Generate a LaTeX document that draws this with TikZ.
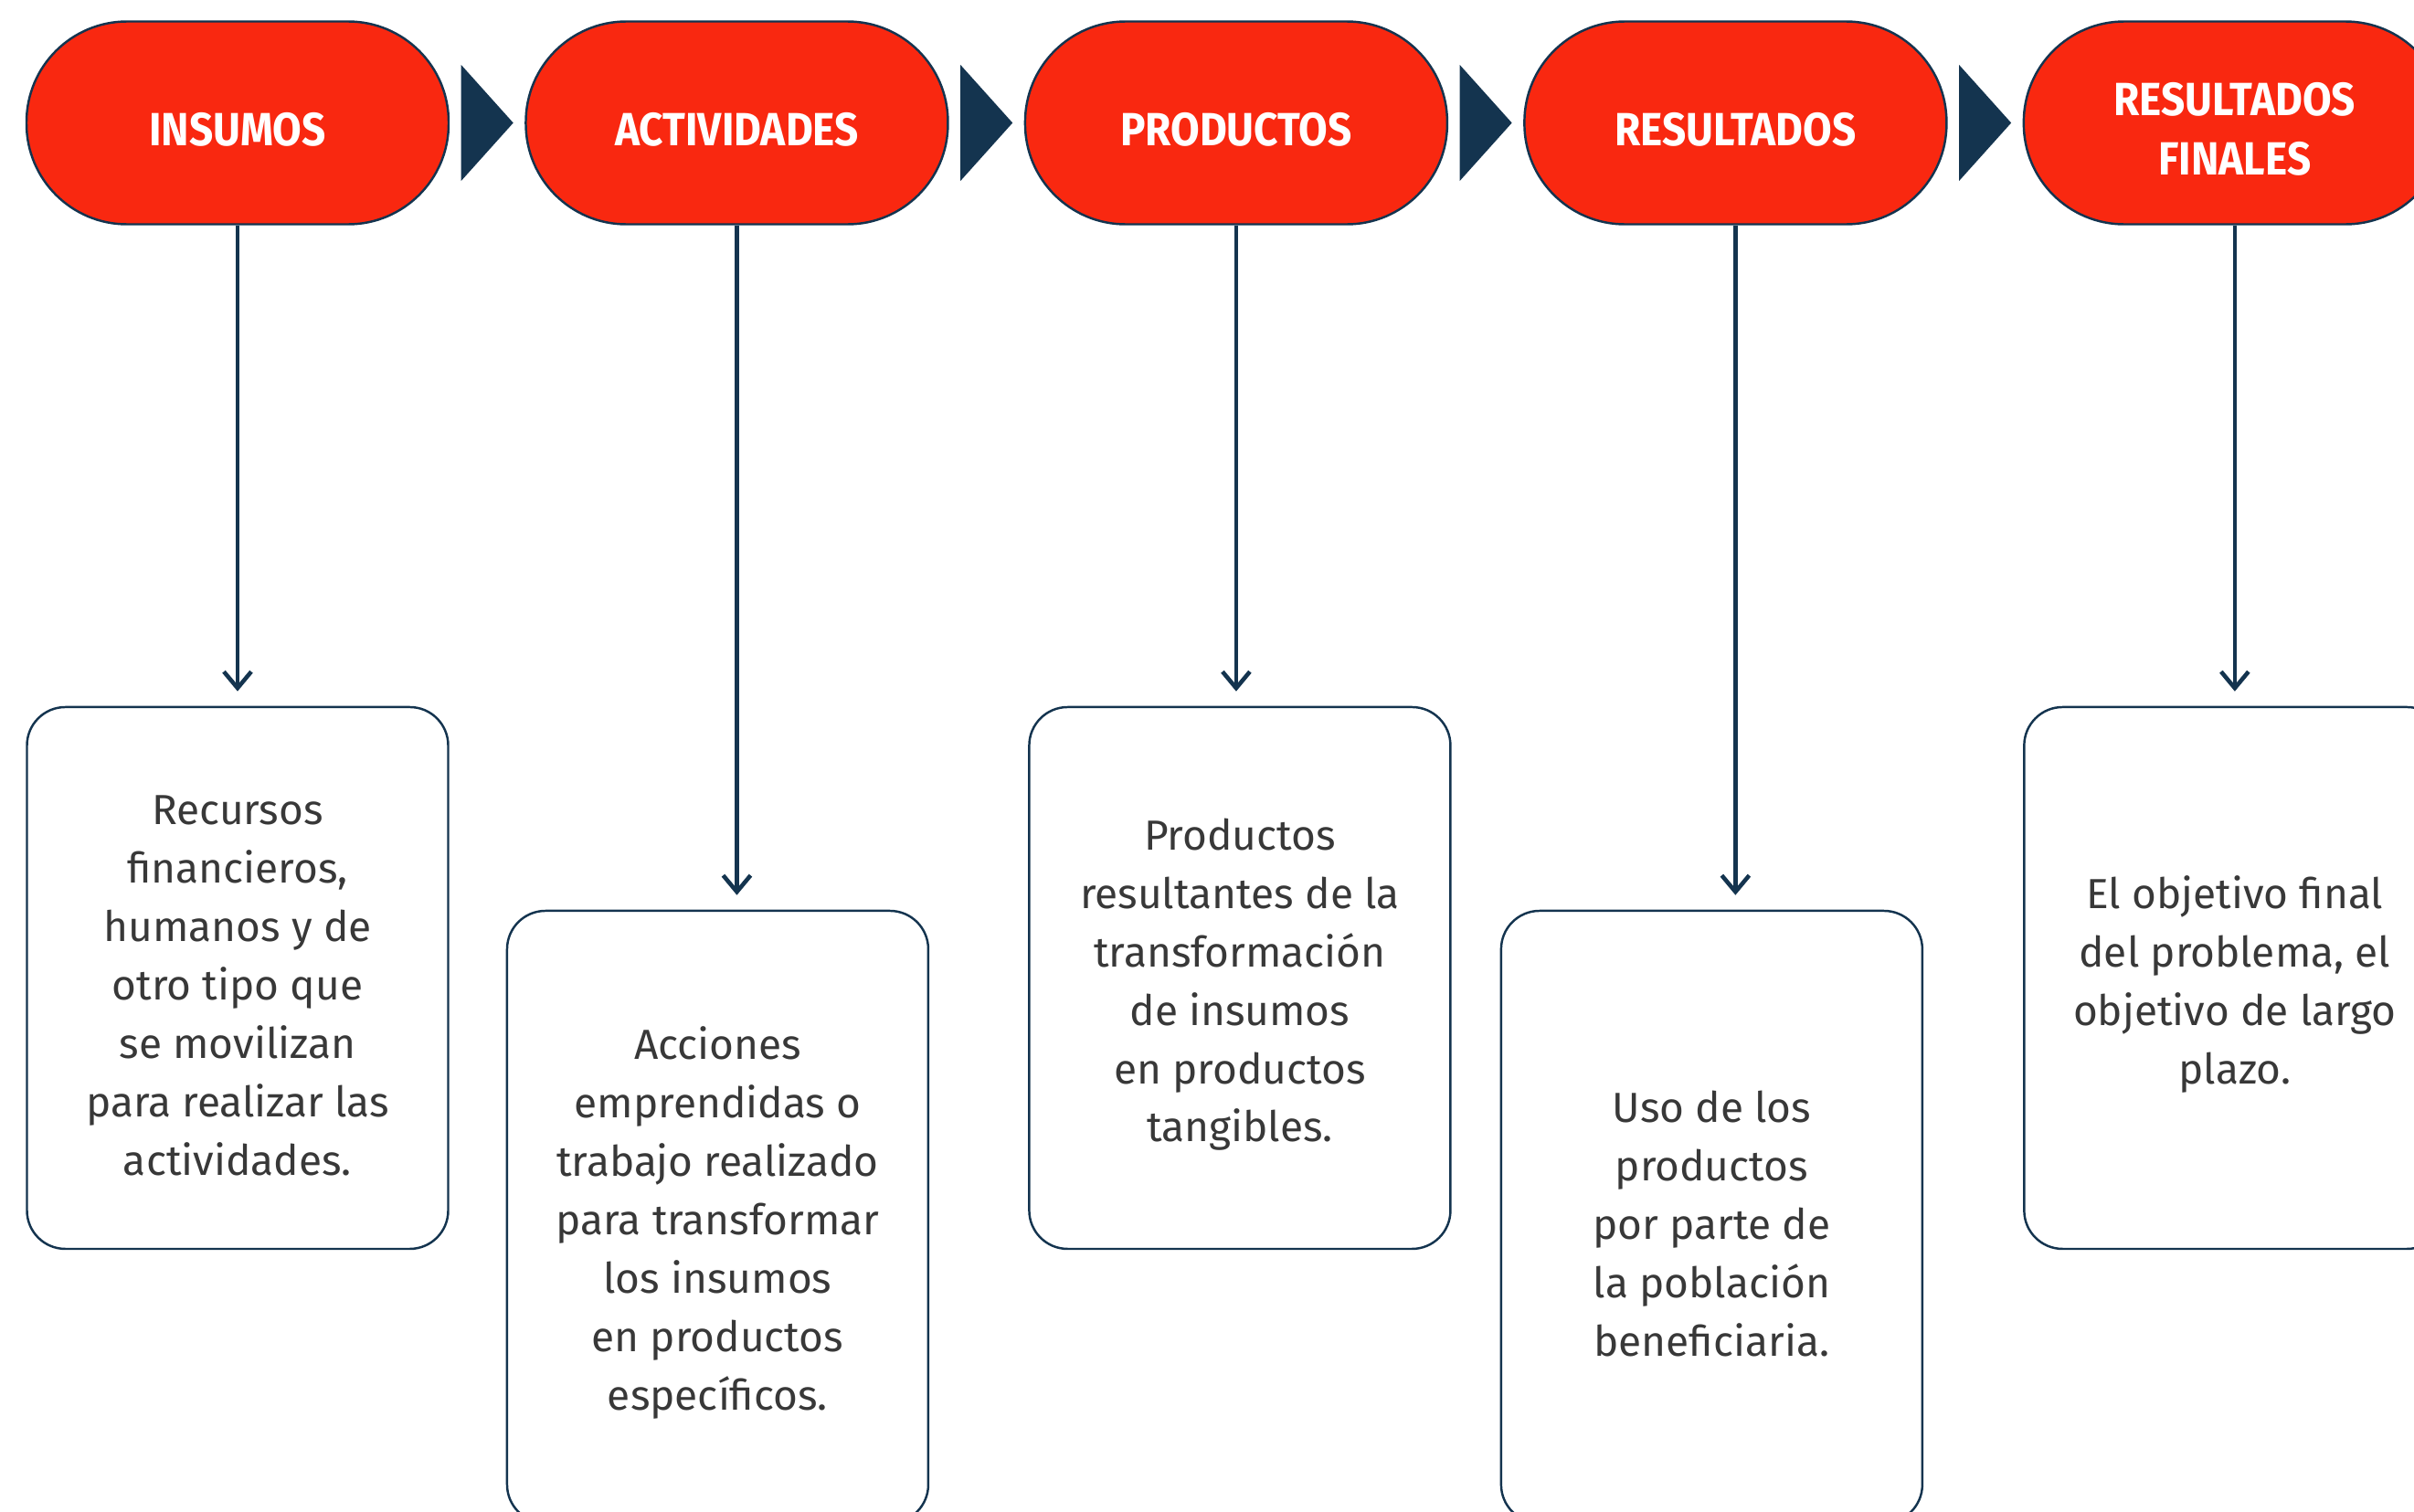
\documentclass[tikz,border=0pt]{standalone}
\usepackage{fontspec}
\setmainfont{Fira Sans}
\newfontfamily\headfont{Fira Sans}[FakeStretch=0.9]
\usetikzlibrary{arrows.meta, positioning, calc}
\definecolor{stagered}{HTML}{F92810}
\definecolor{navy}{HTML}{14344F}
\definecolor{bodygray}{HTML}{383838}
\newcommand{\topstrut}{\rule{0pt}{0.49cm}}

\begin{document}
\begin{tikzpicture}
		\tikzstyle{StageName} = [rectangle, rounded corners=1.1cm, minimum width=4.62cm, minimum height=2.22cm, align=center, text height=0.49cm, text depth=0pt, draw=navy, line width=0.7pt, fill=stagered, text=white, font=\headfont\bfseries\fontsize{14.5}{18.5}\selectfont]
		\tikzstyle{DescName} = [rectangle, rounded corners=0.42cm, minimum width=4.61cm, minimum height=5.93cm, align=center, draw=navy, line width=0.7pt, text=bodygray, font=\fontsize{13.1}{18.2}\selectfont]
		\tikzstyle{TallDescName} = [DescName, minimum height=6.7cm]
		\tikzstyle{chevron} = [fill=navy]
		\tikzstyle{arrow} = [line width=1.3pt, draw=navy, -{Straight Barb[length=0.18cm, width=0.3cm]}, shorten >=0.16cm]
		
		\useasboundingbox (0,0) rectangle (26.42,-16.54);
		
		\node (ins) [StageName] at (2.60,-1.345) {INSUMOS};
		\node (act) [StageName, right = 0.82cm of ins] {ACTIVIDADES};
		\node (pro) [StageName, right = 0.82cm of act] {PRODUCTOS};
		\node (res) [StageName, right = 0.82cm of pro] {RESULTADOS};
		\node (fin) [StageName, right = 0.82cm of res, text height=1.14cm] {RESULTADOS\\FINALES};
		
		\fill[chevron] ($(ins.east)!0.5!(act.west)+(-0.285,0.635)$) -- ++(0.57,-0.635) -- ++(-0.57,-0.635) -- cycle;
		\fill[chevron] ($(act.east)!0.5!(pro.west)+(-0.285,0.635)$) -- ++(0.57,-0.635) -- ++(-0.57,-0.635) -- cycle;
		\fill[chevron] ($(pro.east)!0.5!(res.west)+(-0.285,0.635)$) -- ++(0.57,-0.635) -- ++(-0.57,-0.635) -- cycle;
		\fill[chevron] ($(res.east)!0.5!(fin.west)+(-0.285,0.635)$) -- ++(0.57,-0.635) -- ++(-0.57,-0.635) -- cycle;
		
		\node (insD) [DescName, below = 5.26cm of ins] {\topstrut Recursos\\financieros,\\humanos y de\\otro tipo que\\se movilizan\\para realizar las\\actividades.};
		\node (actD) [TallDescName, below = 7.49cm of act, xshift=-0.21cm] {\topstrut Acciones\\emprendidas o\\trabajo realizado\\para transformar\\los insumos\\en productos\\específicos.};
		\node (proD) [DescName, below = 5.26cm of pro, xshift=0.04cm] {\topstrut Productos\\resultantes de la\\transformación\\de insumos\\en productos\\tangibles.};
		\node (resD) [TallDescName, below = 7.49cm of res, xshift=-0.26cm] {\topstrut Uso de los\\productos\\por parte de\\la población\\beneficiaria.};
		\node (finD) [DescName, below = 5.26cm of fin] {\topstrut El objetivo final\\del problema, el\\objetivo de largo\\plazo.};
		
		\draw[arrow] (ins.south) -- (ins.south |- insD.north);
		\draw[arrow] (act.south) -- (act.south |- actD.north);
		\draw[arrow] (pro.south) -- (pro.south |- proD.north);
		\draw[arrow] (res.south) -- (res.south |- resD.north);
		\draw[arrow] (fin.south) -- (fin.south |- finD.north);
\end{tikzpicture}
\end{document}
